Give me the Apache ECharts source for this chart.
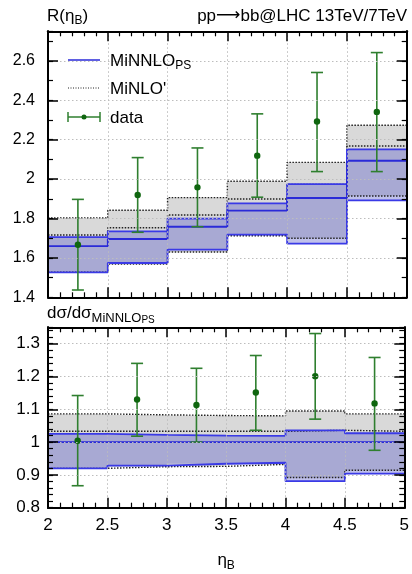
<!DOCTYPE html>
<html>
<head>
<meta charset="utf-8">
<script src="https://cdn.jsdelivr.net/npm/echarts@6/dist/echarts.min.js"></script>
<style>
html, body { margin: 0; padding: 0; background: #fff; }
#chart { width: 412px; height: 574px; }
</style>
</head>
<body>
<div id="chart"></div>
<script>
// eta_B binning
const binEdges = [2, 2.5, 3, 3.5, 4, 4.5, 5];
const binCentres = [2.25, 2.75, 3.25, 3.75, 4.25, 4.75];

// R(eta_B) = sigma(13 TeV) / sigma(7 TeV)
const minnloCentral = [1.660, 1.696, 1.758, 1.840, 1.904, 2.093];
const minnloUp      = [1.705, 1.735, 1.799, 1.877, 1.974, 2.151];
const minnloDown    = [1.527, 1.574, 1.642, 1.718, 1.672, 1.892];
const minloCentral  = [1.716, 1.753, 1.818, 1.899, 1.973, 2.168];
const minloUp       = [1.803, 1.842, 1.906, 1.989, 2.085, 2.273];
const minloDown     = [1.527, 1.569, 1.630, 1.712, 1.700, 1.914];
const dataValue     = [1.667, 1.919, 1.958, 2.119, 2.292, 2.341];
const dataUp        = [1.897, 2.109, 2.158, 2.331, 2.541, 2.642];
const dataDown      = [1.437, 1.730, 1.758, 1.908, 2.038, 2.038];

// ratio to the MiNNLO_PS central prediction
const ratioMinnloCentral = [1.000, 1.000, 1.000, 1.000, 1.000, 1.000];
const ratioMinnloUp      = [1.025, 1.022, 1.020, 1.019, 1.036, 1.027];
const ratioMinnloDown    = [0.920, 0.928, 0.934, 0.937, 0.881, 0.904];
const ratioMinloCentral  = [1.033, 1.033, 1.033, 1.033, 1.036, 1.033];
const ratioMinloUp       = [1.086, 1.083, 1.081, 1.080, 1.095, 1.086];
const ratioMinloDown     = [0.920, 0.925, 0.926, 0.932, 0.892, 0.914];
const ratioData          = [1.004, 1.130, 1.113, 1.151, 1.201, 1.118];
const ratioDataUp        = [1.142, 1.240, 1.225, 1.264, 1.331, 1.258];
const ratioDataDown      = [0.867, 1.018, 1.000, 1.036, 1.070, 0.975];

// axis ticks
const xTicks = { min: 2, max: 5, major: 0.5, minorSplit: 5 };
const topY = { min: 1.4, max: 2.75, major: 0.2, minor: 0.1 };
const botY = { min: 0.8, max: 1.35, major: 0.1, minor: 0.02 };

const FONT = '"Liberation Sans", Arial, Helvetica, sans-serif';
const BLUE = '#2a2ad8';
const BLUE_EDGE = '#3a3ae6';
const BLUE_FILL = 'rgba(80, 82, 200, 0.36)';
const GREY_FILL = '#d9d9d9';
const DOT = '#222';
const GREEN = '#2f7f2f';
const GREEN_DOT = '#0f660f';

const chart = echarts.init(document.getElementById('chart'), null, { renderer: 'canvas' });

// outline of a histogram for step:'end'
function stepData(vals) {
  const pts = vals.map((v, i) => [binEdges[i], v]);
  pts.push([binEdges[binEdges.length - 1], vals[vals.length - 1]]);
  return pts;
}

function stepLine(vals, xi, yi, color, width, type) {
  return {
    type: 'line', xAxisIndex: xi, yAxisIndex: yi, step: 'end',
    data: stepData(vals), showSymbol: false, silent: true,
    lineStyle: { color: color, width: width, type: type || 'solid' },
    z: 3, animation: false
  };
}

// filled band between lower and upper histogram outlines
function band(lo, hi, xi, yi, fill) {
  return {
    type: 'custom', xAxisIndex: xi, yAxisIndex: yi, silent: true, z: 2,
    data: [[binEdges[0], lo[0]]],
    renderItem: function (params, api) {
      const pts = [];
      for (let i = 0; i < hi.length; i++) {
        pts.push(api.coord([binEdges[i], hi[i]]));
        pts.push(api.coord([binEdges[i + 1], hi[i]]));
      }
      for (let i = lo.length - 1; i >= 0; i--) {
        pts.push(api.coord([binEdges[i + 1], lo[i]]));
        pts.push(api.coord([binEdges[i], lo[i]]));
      }
      return { type: 'polygon', shape: { points: pts }, style: { fill: fill } };
    },
    animation: false
  };
}

// data points with vertical error bars
function errorBars(val, lo, hi, xi, yi) {
  return {
    type: 'custom', xAxisIndex: xi, yAxisIndex: yi, silent: true, z: 4,
    data: binCentres.map((x, i) => [x, val[i], lo[i], hi[i]]),
    encode: { x: 0, y: [1, 2, 3] },
    renderItem: function (params, api) {
      const c = api.coord([api.value(0), api.value(1)]);
      const t = api.coord([api.value(0), api.value(3)]);
      const b = api.coord([api.value(0), api.value(2)]);
      const cap = 6;
      const ls = { stroke: GREEN, lineWidth: 1.6 };
      return {
        type: 'group',
        children: [
          { type: 'line', shape: { x1: t[0], y1: t[1], x2: b[0], y2: b[1] }, style: ls },
          { type: 'line', shape: { x1: t[0] - cap, y1: t[1], x2: t[0] + cap, y2: t[1] }, style: ls },
          { type: 'line', shape: { x1: b[0] - cap, y1: b[1], x2: b[0] + cap, y2: b[1] }, style: ls },
          { type: 'circle', shape: { cx: c[0], cy: c[1], r: 3.2 }, style: { fill: GREEN_DOT } }
        ]
      };
    },
    animation: false
  };
}

function xAxis(grid, pos, labels) {
  return {
    type: 'value', gridIndex: grid, position: pos,
    min: xTicks.min, max: xTicks.max, interval: xTicks.major,
    z: 5,
    axisLine: { show: true, onZero: false, lineStyle: { color: '#000', width: 2 } },
    axisTick: { show: true, inside: true, length: 10, lineStyle: { color: '#000', width: 1.5 } },
    minorTick: { show: true, splitNumber: xTicks.minorSplit, length: 5, lineStyle: { color: '#000', width: 1.2 } },
    axisLabel: {
      show: labels, margin: 9, color: '#000', fontFamily: FONT, fontSize: 17
    },
    splitLine: { show: pos === 'bottom', lineStyle: { color: '#bdbdbd', width: 1, type: [1.5, 2.5] } },
    minorSplitLine: { show: false }
  };
}

function yAxis(grid, pos, range, major, labels, labelMargin, labelSize) {
  return {
    type: 'value', gridIndex: grid, position: pos,
    min: range.min, max: range.max, interval: major ? range.major : range.minor,
    z: 5,
    axisLine: { show: true, onZero: false, lineStyle: { color: '#000', width: 2 } },
    axisTick: { show: true, inside: true, length: major ? 10 : 5, lineStyle: { color: '#000', width: major ? 1.5 : 1.2 } },
    axisLabel: {
      show: labels, margin: labelMargin, color: '#000', fontFamily: FONT, fontSize: labelSize,
      showMaxLabel: false
    },
    splitLine: { show: major && pos === 'left', lineStyle: { color: '#bdbdbd', width: 1, type: [1.5, 2.5] } }
  };
}

function txt(size, lh, lower) {
  const s = { fontFamily: FONT, fontSize: size, fontWeight: 'normal', lineHeight: lh, color: '#000' };
  if (lower) s.verticalAlign = 'bottom';
  return s;
}

const option = {
  backgroundColor: '#fff',
  animation: false,
  grid: [
    { left: 48, right: 5.3, top: 31.3, height: 266 },
    { left: 48, right: 5.3, top: 327.3, height: 180.4 }
  ],
  xAxis: [
    xAxis(0, 'bottom', false),
    xAxis(0, 'top', false),
    Object.assign(xAxis(1, 'bottom', true), {
      name: '{m|η}{s|B}', nameLocation: 'middle', nameGap: 42,
      nameTextStyle: { rich: { m: txt(17, 22), s: txt(12, 10, true) } }
    }),
    xAxis(1, 'top', false)
  ],
  yAxis: [
    yAxis(0, 'left', topY, true, true, 13, 16),
    yAxis(0, 'left', topY, false, false, 0, 16),
    yAxis(0, 'right', topY, true, false, 0, 16),
    yAxis(0, 'right', topY, false, false, 0, 16),
    yAxis(1, 'left', botY, true, true, 8, 17),
    yAxis(1, 'left', botY, false, false, 0, 17),
    yAxis(1, 'right', botY, true, false, 0, 17),
    yAxis(1, 'right', botY, false, false, 0, 17)
  ],
  title: [
    {
      text: '{m|R(η}{s|B}{m|)}', left: 47, top: 5, padding: 0,
      textStyle: { fontWeight: 'normal', rich: { m: txt(17, 22), s: txt(12, 10, true) } }
    },
    {
      text: '{m|pp}{a|⟶}{m|bb@LHC 13TeV/7TeV}', right: 5, top: 6, padding: 0,
      textStyle: {
        fontWeight: 'normal',
        rich: {
          m: txt(17, 20),
          a: { fontFamily: '"DejaVu Sans"', fontSize: 17, fontWeight: 'normal', lineHeight: 20, color: '#000' }
        }
      }
    },
    {
      text: '{m|dσ/dσ}{s|MiNNLO}{t|PS}', left: 47, top: 301, padding: 0,
      textStyle: { fontWeight: 'normal', rich: { m: txt(17, 24), s: txt(13, 16, true), t: txt(10, 9, true) } }
    }
  ],
  graphic: [
    { type: 'line', shape: { x1: 68, y1: 60, x2: 100, y2: 60 }, style: { stroke: BLUE, lineWidth: 1.5 }, z: 10 },
    {
      type: 'text', x: 110, y: 61, z: 10,
      style: {
        text: '{m|MiNNLO}{s|PS}', verticalAlign: 'middle',
        rich: {
          m: { fontFamily: FONT, fontSize: 17, lineHeight: 22, fill: '#000' },
          s: { fontFamily: FONT, fontSize: 12, lineHeight: 10, verticalAlign: 'bottom', fill: '#000' }
        }
      }
    },
    { type: 'line', shape: { x1: 68, y1: 88, x2: 100, y2: 88 }, style: { stroke: DOT, lineWidth: 1, lineDash: [1, 1.5] }, z: 10 },
    { type: 'text', x: 110, y: 89, z: 10, style: { text: "MiNLO'", font: '17px ' + FONT, fill: '#000', verticalAlign: 'middle' } },
    { type: 'line', shape: { x1: 68, y1: 117, x2: 100, y2: 117 }, style: { stroke: GREEN, lineWidth: 1.5 }, z: 10 },
    { type: 'line', shape: { x1: 68, y1: 112, x2: 68, y2: 122 }, style: { stroke: GREEN, lineWidth: 1.5 }, z: 10 },
    { type: 'line', shape: { x1: 100, y1: 112, x2: 100, y2: 122 }, style: { stroke: GREEN, lineWidth: 1.5 }, z: 10 },
    { type: 'circle', shape: { cx: 84, cy: 117, r: 2.5 }, style: { fill: GREEN_DOT }, z: 10 },
    { type: 'text', x: 110, y: 118, z: 10, style: { text: 'data', font: '17px ' + FONT, fill: '#000', verticalAlign: 'middle' } }
  ],
  series: [
    // upper panel
    band(minloDown, minloUp, 0, 0, GREY_FILL),
    band(minnloDown, minnloUp, 0, 0, BLUE_FILL),
    stepLine(minloUp, 0, 0, DOT, 1.4, [1.5, 1.5]),
    stepLine(minloCentral, 0, 0, DOT, 1.4, [1.5, 1.5]),
    stepLine(minloDown, 0, 0, DOT, 1.4, [1.5, 1.5]),
    stepLine(minnloUp, 0, 0, BLUE_EDGE, 1.8),
    stepLine(minnloDown, 0, 0, BLUE_EDGE, 1.8),
    stepLine(minnloCentral, 0, 0, BLUE, 1.8),
    errorBars(dataValue, dataDown, dataUp, 0, 0),
    // ratio panel
    band(ratioMinloDown, ratioMinloUp, 2, 4, GREY_FILL),
    band(ratioMinnloDown, ratioMinnloUp, 2, 4, BLUE_FILL),
    stepLine(ratioMinloUp, 2, 4, DOT, 1.4, [1.5, 1.5]),
    stepLine(ratioMinloCentral, 2, 4, DOT, 1.4, [1.5, 1.5]),
    stepLine(ratioMinloDown, 2, 4, DOT, 1.4, [1.5, 1.5]),
    stepLine(ratioMinnloUp, 2, 4, BLUE_EDGE, 1.8),
    stepLine(ratioMinnloDown, 2, 4, BLUE_EDGE, 1.8),
    stepLine(ratioMinnloCentral, 2, 4, BLUE, 1.8),
    errorBars(ratioData, ratioDataDown, ratioDataUp, 2, 4)
  ]
};

chart.setOption(option);
</script>
</body>
</html>
